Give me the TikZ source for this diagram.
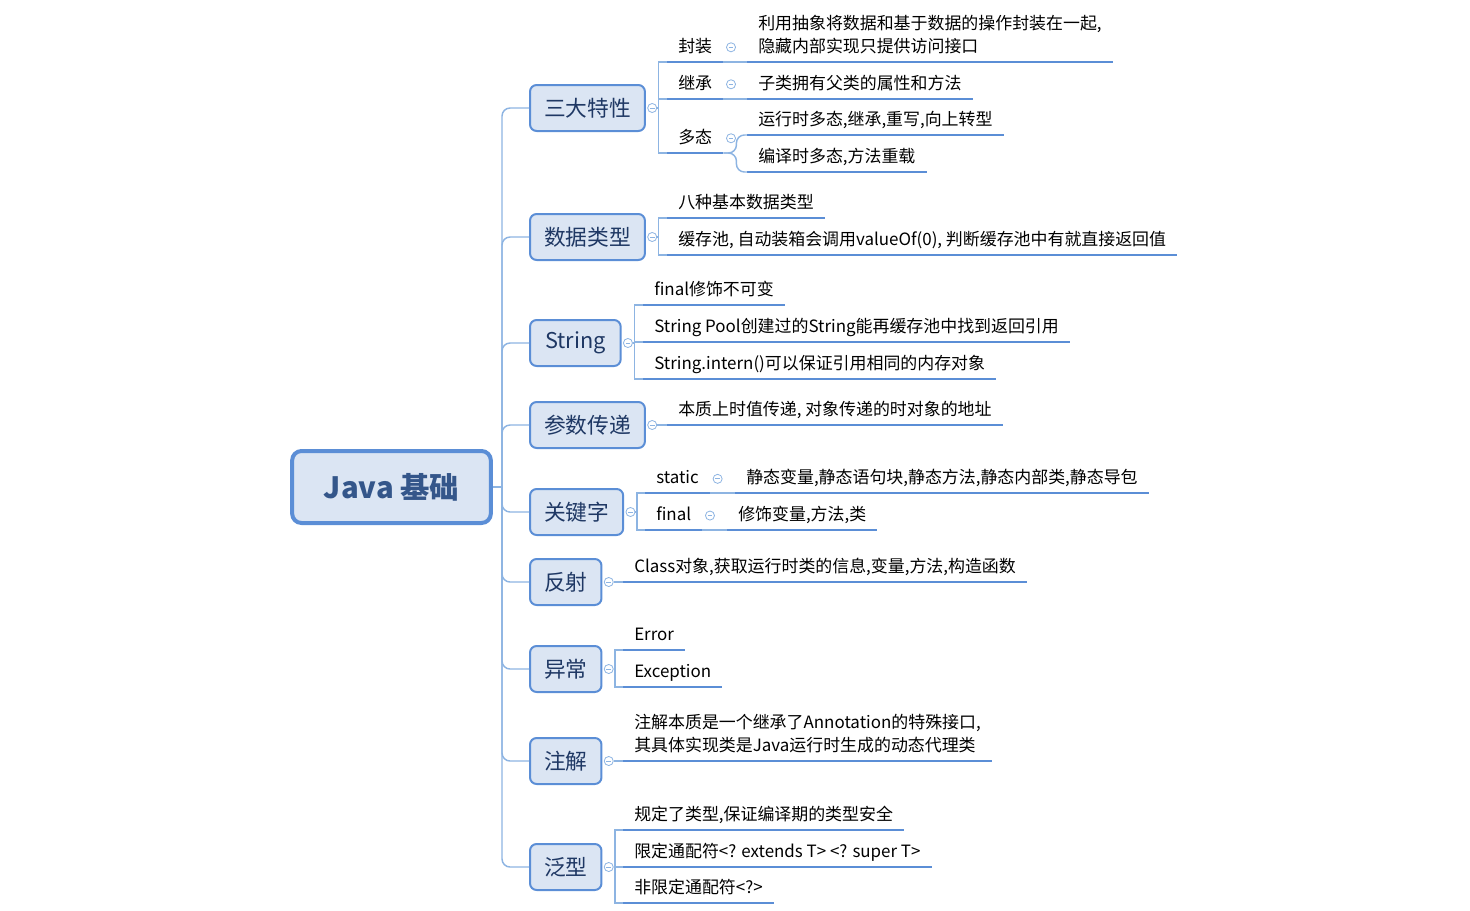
\documentclass[tikz,border=0pt]{standalone}
\usepackage{fontspec}
\setmainfont{Noto Sans CJK SC}
\usetikzlibrary{positioning}
\definecolor{boxfill}{HTML}{DBE5F3}
\definecolor{boxline}{HTML}{5B8ED6}
\definecolor{twigline}{HTML}{8DB4E2}
\definecolor{topictext}{HTML}{1F3864}
\definecolor{roottext}{HTML}{34568A}
\tikzstyle{root} = [rectangle, draw=boxline, line width=3pt, fill=boxfill,
    rounded corners=7pt, minimum width=149pt, minimum height=54pt,
    font=\fontsize{22}{26}\selectfont\bfseries, text=roottext]
\tikzstyle{topic} = [rectangle, draw=boxline, line width=1.5pt, fill=boxfill,
    rounded corners=5pt, anchor=west, inner xsep=10.5pt, minimum height=34.5pt,
    font=\fontsize{16.3}{20}\selectfont, text=topictext]
\tikzstyle{uline} = [draw=boxline, line width=2.2pt]
\tikzstyle{leaf} = [anchor=south west, inner xsep=8.25pt, inner ysep=4pt, text depth=3pt,
    font=\fontsize{12.7}{17.3}\selectfont,
    append after command={(\tikzlastnode.south west) edge[uline] (\tikzlastnode.south east)}]
\tikzstyle{twig} = [draw=twigline, line width=1.1pt]
\tikzstyle{fold} = [circle, draw=twigline, fill=white, line width=0.6pt, inner sep=0pt,
    minimum size=6.8pt, path picture={\draw[twigline, line width=0.7pt]
    ([xshift=-1.8pt]path picture bounding box.center) -- ([xshift=1.8pt]path picture bounding box.center);}]

\begin{document}
\begin{tikzpicture}[x=0.75pt, y=-0.75pt]
  \useasboundingbox (0,0) rectangle (1470,910);
   % Place nodes
    \node [root] (java) at (391.5,487) {Java 基础};
    \node [topic] (trait) at (529,108) {三大特性};
    \node [topic] (dtype) at (529,237) {数据类型};
    \node [topic, minimum width=68pt] (str) at (529,343) {String};
    \node [topic] (param) at (529,425) {参数传递};
    \node [topic] (kw) at (529,512) {关键字};
    \node [topic] (refl) at (529,582) {反射};
    \node [topic] (exc) at (529,669) {异常};
    \node [topic] (anno) at (529,761) {注解};
    \node [topic] (gen) at (529,867) {泛型};
   % Fold marks
    \node [fold, right=1pt of trait] (trait-f) {};
    \node [fold, right=1pt of dtype] (dtype-f) {};
    \node [fold, right=1pt of str] (str-f) {};
    \node [fold, right=1pt of param] (param-f) {};
    \node [fold, right=1pt of kw] (kw-f) {};
    \node [fold, right=1pt of refl] (refl-f) {};
    \node [fold, right=1pt of exc] (exc-f) {};
    \node [fold, right=1pt of anno] (anno-f) {};
    \node [fold, right=1pt of gen] (gen-f) {};
   % Leaves
    \node [leaf] (encap) at (667,62) {封装};
    \node [leaf, align=left] (encap-d) at (747,62) {利用抽象将数据和基于数据的操作封装在一起,\\隐藏内部实现只提供访问接口};
    \node [leaf] (inher) at (667,99) {继承};
    \node [leaf] (inher-d) at (747,99) {子类拥有父类的属性和方法};
    \node [leaf] (poly) at (667,153) {多态};
    \node [leaf] (poly-rt) at (747,135) {运行时多态,继承,重写,向上转型};
    \node [leaf] (poly-ct) at (747,172) {编译时多态,方法重载};
    \node [fold, right=2pt of encap] (encap-f) {};
    \node [fold, right=2pt of inher] (inher-f) {};
    \node [fold, right=2pt of poly] (poly-f) {};
    \node [leaf] (prim) at (667,218) {八种基本数据类型};
    \node [leaf] (cache) at (667,255) {缓存池, 自动装箱会调用valueOf(0), 判断缓存池中有就直接返回值};
    \node [leaf] (sfinal) at (643,305) {final修饰不可变};
    \node [leaf] (spool) at (643,342) {String Pool创建过的String能再缓存池中找到返回引用};
    \node [leaf] (sintern) at (643,379) {String.intern()可以保证引用相同的内存对象};
    \node [leaf] (byval) at (667,425) {本质上时值传递, 对象传递的时对象的地址};
    \node [leaf] (kstatic) at (645,493) {static};
    \node [leaf] (kstatic-d) at (735,493) {静态变量,静态语句块,静态方法,静态内部类,静态导包};
    \node [leaf] (kfinal) at (645,530) {final};
    \node [leaf] (kfinal-d) at (727,530) {修饰变量,方法,类};
    \node [fold, right=2pt of kstatic] (kstatic-f) {};
    \node [fold, right=2pt of kfinal] (kfinal-f) {};
    \node [leaf] (cls) at (623,582) {Class对象,获取运行时类的信息,变量,方法,构造函数};
    \node [leaf] (err) at (623,650) {Error};
    \node [leaf] (excp) at (623,687) {Exception};
    \node [leaf, align=left] (annod) at (623,761) {注解本质是一个继承了Annotation的特殊接口,\\其具体实现类是Java运行时生成的动态代理类};
    \node [leaf] (gsafe) at (623,830) {规定了类型,保证编译期的类型安全};
    \node [leaf] (gbound) at (623,867) {限定通配符<? extends T> <? super T>};
    \node [leaf] (gfree) at (623,903) {非限定通配符<?>};
   % Draw edges
    \coordinate (hub) at (502,487);
    \path [twig] (java.east) -- (hub);
    \path [twig, rounded corners=6pt] (hub) |- (trait.west);
    \path [twig, rounded corners=6pt] (hub) |- (dtype.west);
    \path [twig, rounded corners=6pt] (hub) |- (str.west);
    \path [twig, rounded corners=6pt] (hub) |- (param.west);
    \path [twig, rounded corners=6pt] (hub) |- (kw.west);
    \path [twig, rounded corners=6pt] (hub) |- (refl.west);
    \path [twig, rounded corners=6pt] (hub) |- (exc.west);
    \path [twig, rounded corners=6pt] (hub) |- (anno.west);
    \path [twig, rounded corners=6pt] (hub) |- (gen.west);
    \path [twig] (trait-f.east) -- ++(1.5,0) |- (encap.south west);
    \path [twig] (trait-f.east) -- ++(1.5,0) |- (inher.south west);
    \path [twig] (trait-f.east) -- ++(1.5,0) |- (poly.south west);
    \path [twig] (encap.south east) -- (encap-d.south west);
    \path [twig] (inher.south east) -- (inher-d.south west);
    \path [twig, rounded corners=6pt] (poly.south east) -- ++(13,0) |- (poly-rt.south west);
    \path [twig, rounded corners=6pt] (poly.south east) -- ++(13,0) |- (poly-ct.south west);
    \path [twig] (dtype-f.east) -- ++(1.5,0) |- (prim.south west);
    \path [twig] (dtype-f.east) -- ++(1.5,0) |- (cache.south west);
    \path [twig] (str-f.east) -- ++(1.5,0) |- (sfinal.south west);
    \path [twig] (str-f.east) -- ++(1.5,0) |- (spool.south west);
    \path [twig] (str-f.east) -- ++(1.5,0) |- (sintern.south west);
    \path [twig] (param-f.east) -- (byval.south west);
    \path [twig] (kw-f.east) -- ++(1.5,0) |- (kstatic.south west);
    \path [twig] (kw-f.east) -- ++(1.5,0) |- (kfinal.south west);
    \path [twig] (kstatic.south east) -- (kstatic-d.south west);
    \path [twig] (kfinal.south east) -- (kfinal-d.south west);
    \path [twig] (refl-f.east) -- (cls.south west);
    \path [twig] (exc-f.east) -- ++(1.5,0) |- (err.south west);
    \path [twig] (exc-f.east) -- ++(1.5,0) |- (excp.south west);
    \path [twig] (anno-f.east) -- (annod.south west);
    \path [twig] (gen-f.east) -- ++(1.5,0) |- (gsafe.south west);
    \path [twig] (gen-f.east) -- ++(1.5,0) |- (gbound.south west);
    \path [twig] (gen-f.east) -- ++(1.5,0) |- (gfree.south west);
\end{tikzpicture}
\end{document}
